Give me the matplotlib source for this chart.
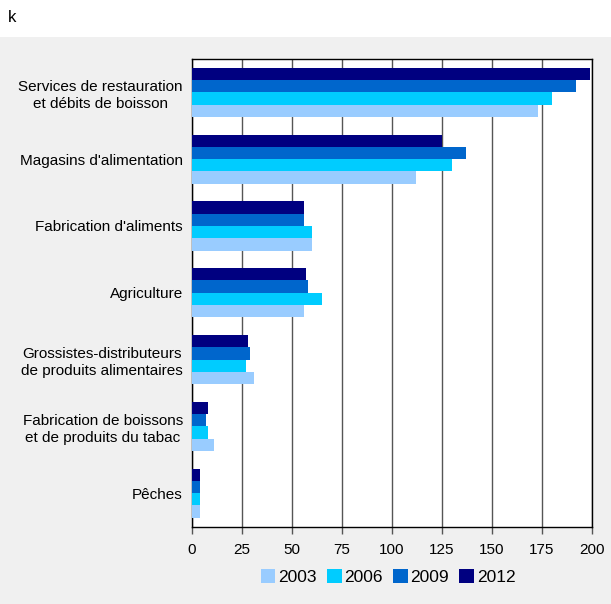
import numpy as np
import matplotlib.pyplot as plt
from matplotlib.patches import Rectangle, Patch

plt.rcParams['font.family'] = ['Liberation Sans', 'DejaVu Sans']

# Données (en milliers)
categories = [
    "Services de restauration\net débits de boisson",
    "Magasins d'alimentation",
    "Fabrication d'aliments",
    "Agriculture",
    "Grossistes-distributeurs\nde produits alimentaires",
    "Fabrication de boissons\net de produits du tabac",
    "Pêches",
]
years = ["2003", "2006", "2009", "2012"]
v2003 = [173, 112, 60, 56, 31, 11, 4]
v2006 = [180, 130, 60, 65, 27, 8, 4]
v2009 = [192, 137, 56, 58, 29, 7, 4]
v2012 = [199, 125, 56, 57, 28, 8, 4]
colors = ["#99ccff", "#00ccff", "#0066cc", "#000080"]

fig = plt.figure(figsize=(6.11, 6.04), dpi=100)
fig.patches.append(Rectangle((0, 0), 1, 1 - 37 / 604, transform=fig.transFigure,
                             facecolor="#f0f0f0", edgecolor="none", zorder=-10))
fig.text(8 / 611, 1 - 17 / 604, "k", fontsize=12, va="center", ha="left")

# zone du graphique : x 192->592, y 59->526.5 (pixels)
ax = fig.add_axes([192 / 611, 1 - 526.5 / 604, 400 / 611, 467.5 / 604])
ax.set_facecolor("white")

n = len(categories)
y = np.arange(n)[::-1]  # premier en haut
h = 0.184
series = [v2003, v2006, v2009, v2012]
offsets = [-1.5 * h, -0.5 * h, 0.5 * h, 1.5 * h]
for vals, c, off, lab in zip(series, colors, offsets, years):
    ax.barh(y + off, vals, height=h, color=c, label=lab, zorder=3)

ax.set_xlim(0, 200)
ax.set_ylim(-0.5, n - 0.5)
ax.set_xticks(np.arange(0, 201, 25))
ax.set_yticks(y)
ax.set_yticklabels(categories, fontsize=11, ha="right", multialignment="center",
                   linespacing=1.3)
ax.tick_params(axis="y", length=0, pad=6.5)
ax.tick_params(axis="x", length=5, width=1, color="#555555", labelsize=11, pad=7)
ax.xaxis.grid(True, color="#555555", linewidth=1, zorder=1)
for s in ax.spines.values():
    s.set_color("black")
    s.set_linewidth(1)

handles = [Patch(facecolor=c, edgecolor="none") for c in colors]
fig.legend(handles, years, loc="center", bbox_to_anchor=(388 / 611, 1 - 577 / 604),
           ncol=4, frameon=False, fontsize=12.5, handlelength=0.85, handleheight=0.85,
           handletextpad=0.15, columnspacing=0.6)

fig.savefig("out.png", dpi=100)
